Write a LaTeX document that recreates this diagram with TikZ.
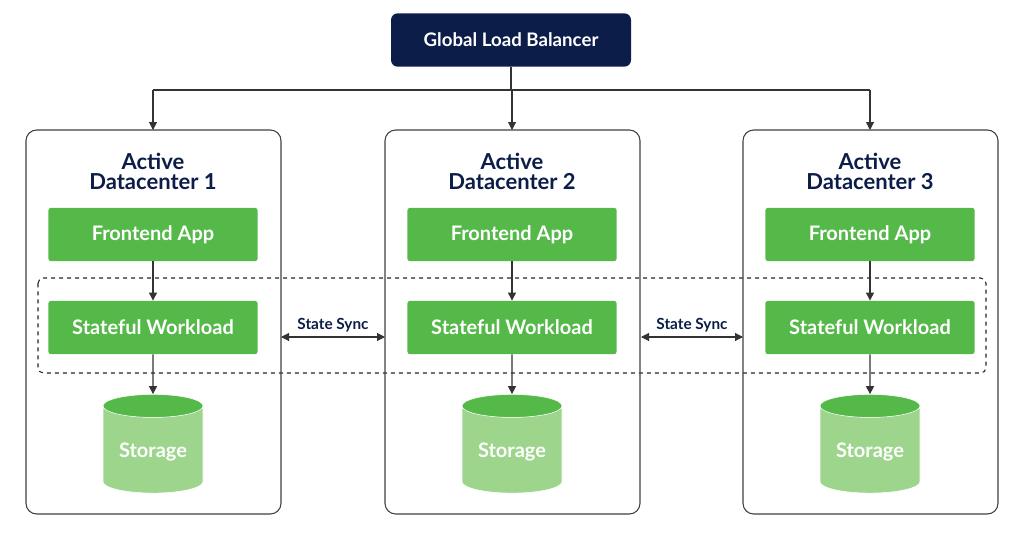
\documentclass[tikz,border=0pt]{standalone}
\usepackage{fontspec}
\setmainfont{Lato}
\usetikzlibrary{shapes.geometric,arrows.meta}
\definecolor{navy}{HTML}{0B1D48}
\definecolor{leaf}{HTML}{55B949}
\definecolor{paleleaf}{HTML}{9DD58D}
\begin{document}
\begin{tikzpicture}[x=0.75pt,y=-0.75pt,
  dc/.style={draw=black!75, rounded corners=8pt, line width=0.8pt},
  app/.style={fill=leaf, rounded corners=2pt, minimum width=157pt, minimum height=40pt, text=white, font=\bfseries\fontsize{15}{18}\selectfont},
  store/.style={cylinder, shape border rotate=90, aspect=0.3, cylinder uses custom fill, cylinder body fill=paleleaf, cylinder end fill=leaf, draw=white, minimum width=75pt, minimum height=74pt, text=white, font=\bfseries\fontsize{15}{18}\selectfont},
  title/.style={text=navy, font=\bfseries\fontsize{16.5}{19}\selectfont, align=center},
  link/.style={-{Triangle[length=6pt,width=6pt]}, draw=black!80, line width=0.8pt}]
\useasboundingbox (0,0) rectangle (1024,532);
\node[fill=navy, rounded corners=5pt, minimum width=180pt, minimum height=40pt, text=white, font=\bfseries\fontsize{14}{16}\selectfont] (glb) at (511,40) {Global Load Balancer};
\draw[dashed, draw=black!85, line width=0.8pt, rounded corners=4pt] (38,278) rectangle (986,373);
\foreach \i/\x in {1/153,2/512,3/870}{
  \draw[dc] (\x-127,130) rectangle (\x+128,514);
  \coordinate (top\i) at (\x,130);
  \node[title] (t\i) at (\x,171) {Active\\[-4pt]Datacenter \i};
  \node[app] (fe\i) at (\x,234.5) {Frontend App};
  \node[app] (sw\i) at (\x,327.5) {Stateful Workload};
  \node[store] (st\i) at (\x,452) {\raisebox{-9pt}{Storage}};
  \draw[link] (fe\i) -- (sw\i);
  \draw[link] (sw\i) -- (st\i.north);
}
\coordinate (split) at (511,90);
\draw[draw=black!80, line width=0.8pt] (glb) -- (split);
\draw[draw=black!80, line width=0.8pt] (153,90) -- (870,90);
\foreach \i in {1,2,3}{\draw[link] (top\i |- split) -- (top\i);}
\coordinate (e1) at (281,337); \coordinate (w2) at (385,337);
\coordinate (e2) at (641,337); \coordinate (w3) at (743,337);
\draw[link, {Triangle[length=6pt,width=6pt]}-{Triangle[length=6pt,width=6pt]}] (e1) -- node[above, text=navy, font=\bfseries\fontsize{11.5}{13}\selectfont] {State Sync} (w2);
\draw[link, {Triangle[length=6pt,width=6pt]}-{Triangle[length=6pt,width=6pt]}] (e2) -- node[above, text=navy, font=\bfseries\fontsize{11.5}{13}\selectfont] {State Sync} (w3);
\end{tikzpicture}
\end{document}
